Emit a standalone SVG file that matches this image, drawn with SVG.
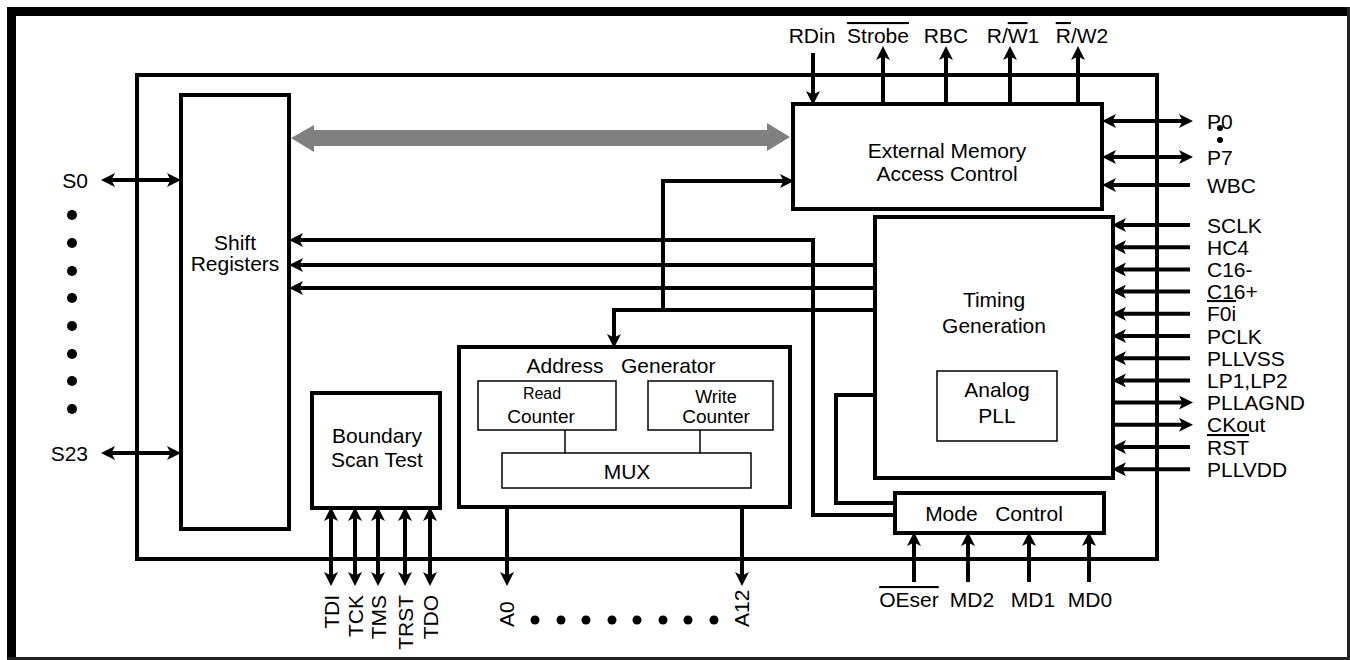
<svg xmlns="http://www.w3.org/2000/svg" width="1350" height="660" viewBox="0 0 1350 660">
<style>
text{font-family:"Liberation Sans",Arial,sans-serif;font-size:21px;fill:#000}
.c{text-anchor:middle}
.box{fill:#fff;stroke:#000;stroke-width:4}
.thin{fill:#fff;stroke:#000;stroke-width:1.5}
.w{fill:none;stroke:#000;stroke-width:4}
.a{marker-end:url(#ah)}
.d{marker-start:url(#ah);marker-end:url(#ah)}
.ov{text-decoration:overline}
.dot{fill:#000}
.cnt{font-size:19px}
</style>
<defs>
<marker id="ah" markerUnits="userSpaceOnUse" markerWidth="14" markerHeight="14" refX="6" refY="6" orient="auto-start-reverse" viewBox="0 0 12 12">
<path d="M0,0 L12,6 L0,12 L3,6 z" fill="#000"/>
</marker>
</defs>
<rect width="1350" height="660" fill="#fff"/>
<g id="frame">
<rect x="7" y="7" width="1343" height="9" fill="#000"/>
<rect x="7" y="7" width="9" height="653" fill="#000"/>
<rect x="1347" y="7" width="3" height="653" fill="#222"/>
<rect x="7" y="657" width="1343" height="3" fill="#222"/>
</g>
<g id="chip"><rect x="137" y="75" width="1020" height="484" class="box" style="fill:none"/></g>
<g id="shift-registers">
<rect x="181" y="95" width="108" height="434" class="box"/>
<text x="235" y="250" class="c">Shift</text>
<text x="235" y="271" class="c">Registers</text>
</g>
<g id="ext-mem">
<rect x="793" y="104" width="309" height="105" class="box"/>
<text x="947" y="158" class="c">External Memory</text>
<text x="947" y="181" class="c">Access Control</text>
</g>
<g id="timing">
<rect x="875" y="217" width="238" height="261" class="box"/>
<text x="994" y="307" class="c">Timing</text>
<text x="994" y="333" class="c">Generation</text>
</g>
<g id="analog-pll">
<rect x="937" y="371" width="120" height="70" class="thin"/>
<text x="997" y="397" class="c">Analog</text>
<text x="997" y="423" class="c">PLL</text>
</g>
<g id="mode-control">
<rect x="895" y="493" width="209" height="40" class="box"/>
<text x="994" y="521" class="c" xml:space="preserve">Mode   Control</text>
</g>
<g id="address-generator">
<rect x="459" y="347" width="331" height="160" class="box"/>
<text x="621" y="373" class="c" xml:space="preserve">Address   Generator</text>
</g>
<g id="read-counter">
<rect x="478" y="381" width="138" height="49" class="thin"/>
<text x="542" y="399" class="c" style="font-size:16px">Read</text>
<text x="541" y="423" class="c cnt">Counter</text>
</g>
<g id="write-counter">
<rect x="648" y="381" width="125" height="49" class="thin"/>
<text x="716" y="403" class="c" style="font-size:18px">Write</text>
<text x="716" y="423" class="c cnt">Counter</text>
</g>
<g id="mux">
<rect x="502" y="453" width="249" height="35" class="thin"/>
<text x="627" y="479" class="c">MUX</text>
</g>
<g id="boundary-scan">
<rect x="312" y="393" width="128" height="115" class="box"/>
<text x="377" y="443" class="c">Boundary</text>
<text x="377" y="467" class="c">Scan Test</text>
</g>
<g id="connectors">
<polygon points="291,138 314,125 314,130 767,130 767,123 790,137 767,151 767,146 314,146 314,152" fill="#808080"/>
<line x1="565" y1="430" x2="565" y2="453" stroke="#000" stroke-width="1.5"/>
<line x1="700" y1="430" x2="700" y2="453" stroke="#000" stroke-width="1.5"/>
<path class="w a" d="M813,53 V98"/>
<path class="w a" d="M883,104 V53"/>
<path class="w a" d="M946,104 V53"/>
<path class="w a" d="M1010,104 V53"/>
<path class="w a" d="M1078,104 V53"/>
<path class="w d" d="M1109,121 H1186"/>
<path class="w d" d="M1109,157 H1186"/>
<path class="w a" d="M1190,185 H1109"/>
<path class="w a" d="M1190,225 H1119"/>
<path class="w a" d="M1190,247.2 H1119"/>
<path class="w a" d="M1190,269.4 H1119"/>
<path class="w a" d="M1190,291.6 H1119"/>
<path class="w a" d="M1190,313.8 H1119"/>
<path class="w a" d="M1190,336 H1119"/>
<path class="w a" d="M1190,358.2 H1119"/>
<path class="w a" d="M1190,380.4 H1119"/>
<path class="w a" d="M1113,402.6 H1186"/>
<path class="w a" d="M1113,424.8 H1186"/>
<path class="w a" d="M1190,447 H1119"/>
<path class="w a" d="M1190,469.2 H1119"/>
<path class="w d" d="M108,180 H174"/>
<path class="w d" d="M108,453 H174"/>
<path class="w a" d="M895,515 H813 V240 H296"/>
<path class="w a" d="M875,265 H296"/>
<path class="w a" d="M875,288 H296"/>
<path class="w a" d="M875,310 H614 V341"/>
<path class="w a" d="M663,310 V181 H787"/>
<path class="w" d="M895,503 H836 V395 H875"/>
<path class="w d" d="M331,514 V579"/>
<path class="w d" d="M355,514 V579"/>
<path class="w d" d="M378,514 V579"/>
<path class="w d" d="M405,514 V579"/>
<path class="w d" d="M430,514 V579"/>
<path class="w a" d="M507,507 V579"/>
<path class="w a" d="M742,507 V579"/>
<path class="w a" d="M914,582 V539"/>
<path class="w a" d="M968,582 V539"/>
<path class="w a" d="M1029,582 V539"/>
<path class="w a" d="M1089,582 V539"/>
</g>
<g id="labels">
<text x="812" y="43" class="c">RDin</text>
<text x="878" y="43" class="c"><tspan class="ov">Strobe</tspan></text>
<text x="946" y="43" class="c">RBC</text>
<text x="1013" y="43" class="c">R/<tspan class="ov">W</tspan>1</text>
<text x="1082" y="43" class="c"><tspan class="ov">R</tspan>/W2</text>
<text x="1207" y="129">P0</text>
<text x="1207" y="165">P7</text>
<text x="1207" y="193">WBC</text>
<text x="1207" y="233">SCLK</text>
<text x="1207" y="255">HC4</text>
<text x="1207" y="277">C16-</text>
<text x="1207" y="299">C16+</text>
<text x="1207" y="321"><tspan class="ov">F0i</tspan></text>
<text x="1207" y="344">PCLK</text>
<text x="1207" y="366">PLLVSS</text>
<text x="1207" y="388">LP1,LP2</text>
<text x="1207" y="410">PLLAGND</text>
<text x="1207" y="432">CKout</text>
<text x="1207" y="455"><tspan class="ov">RST</tspan></text>
<text x="1207" y="477">PLLVDD</text>
<text x="88" y="188" style="text-anchor:end">S0</text>
<text x="88" y="461" style="text-anchor:end">S23</text>
<text x="909" y="607" class="c"><tspan class="ov">OEser</tspan></text>
<text x="972" y="607" class="c">MD2</text>
<text x="1033" y="607" class="c">MD1</text>
<text x="1090" y="607" class="c">MD0</text>
<text transform="translate(339,595) rotate(-90)" style="text-anchor:end">TDI</text>
<text transform="translate(363,595) rotate(-90)" style="text-anchor:end">TCK</text>
<text transform="translate(386,595) rotate(-90)" style="text-anchor:end">TMS</text>
<text transform="translate(413,595) rotate(-90)" style="text-anchor:end">TRST</text>
<text transform="translate(438,595) rotate(-90)" style="text-anchor:end">TDO</text>
<text transform="translate(514,627) rotate(-90)">A0</text>
<text transform="translate(749,627) rotate(-90)">A12</text>
</g>
<g id="dots">
<circle class="dot" cx="1220" cy="128" r="3"/>
<circle class="dot" cx="1220" cy="140" r="3"/>
<circle class="dot" cx="72" cy="215" r="5"/>
<circle class="dot" cx="72" cy="243" r="5"/>
<circle class="dot" cx="72" cy="271" r="5"/>
<circle class="dot" cx="72" cy="298" r="5"/>
<circle class="dot" cx="72" cy="326" r="5"/>
<circle class="dot" cx="72" cy="354" r="5"/>
<circle class="dot" cx="72" cy="381" r="5"/>
<circle class="dot" cx="72" cy="409" r="5"/>
<circle class="dot" cx="535" cy="620" r="4.5"/>
<circle class="dot" cx="561" cy="620" r="4.5"/>
<circle class="dot" cx="586" cy="620" r="4.5"/>
<circle class="dot" cx="612" cy="620" r="4.5"/>
<circle class="dot" cx="637" cy="620" r="4.5"/>
<circle class="dot" cx="663" cy="620" r="4.5"/>
<circle class="dot" cx="688" cy="620" r="4.5"/>
<circle class="dot" cx="714" cy="620" r="4.5"/>
</g>
</svg>
